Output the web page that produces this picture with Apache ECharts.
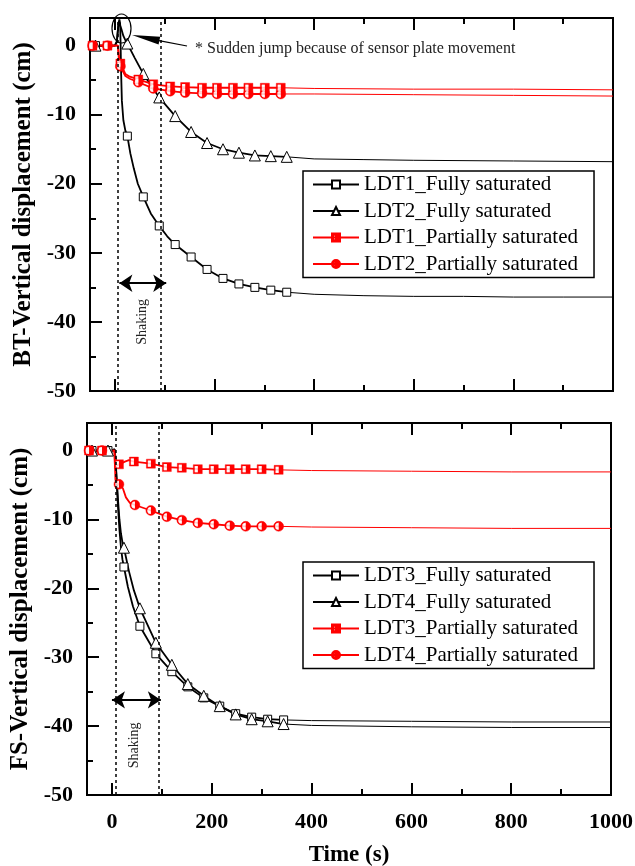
<!DOCTYPE html>
<html>
<head>
<meta charset="utf-8">
<script src="https://cdn.jsdelivr.net/npm/echarts@6/dist/echarts.min.js"></script>
<style>
  html, body { margin: 0; padding: 0; background: #fff; }
  #chart { width: 635px; height: 866px; }
</style>
</head>
<body>
<div id="chart"></div>
<script>
// ---- tick values ----
const xMajorTicks = [0, 200, 400, 600, 800, 1000];
const xMinorTicks = [100, 300, 500, 700, 900];
const yMajorTicks = [-50, -40, -30, -20, -10, 0];
const yMinorTicks = [-45, -35, -25, -15, -5];

// ---- BT (top) : [time s, displacement cm] ----
const bt1FullLine = [[-50, 0], [0, 0], [4, 0.6], [7, 3.2], [9, 3.8], [10.5, 3.2], [11.5, 0], [12.5, -4], [14, -8], [17, -10.8], [21, -12.3], [31, -15.6], [38, -17.8], [46, -20.0], [72, -24.3], [105, -27.6]];
const bt1FullMarks = [[-39, 0], [25, -13.1], [57, -21.9], [89, -26.1], [121, -28.8], [153, -30.6], [185, -32.4], [217, -33.7], [249, -34.5], [281, -35.0], [313, -35.4], [345, -35.7]];
const bt1FullTail = [[345, -35.7], [400, -36.0], [500, -36.2], [600, -36.3], [700, -36.3], [800, -36.4], [900, -36.4], [1000, -36.4]];

const bt2FullLine = [[-50, 0], [0, 0], [4, 0.6], [6, 2.2], [8, 3.5], [10, 3.4], [13, 2.4], [17, 1.4], [21, 0.8], [40, -1.8]];
const bt2FullMarks = [[-39, 0], [25, 0.3], [57, -4.1], [89, -7.5], [121, -10.2], [153, -12.5], [185, -14.1], [217, -15.0], [249, -15.5], [281, -15.9], [313, -16.0], [345, -16.1]];
const bt2FullTail = [[345, -16.1], [400, -16.4], [500, -16.5], [600, -16.6], [800, -16.7], [1000, -16.8]];

const bt1PartLine = [[-50, 0], [0, 0], [6, 0], [8, -1.5], [10, -2.4], [21, -4.1], [30, -4.5]];
const bt1PartMarks = [[-45, 0], [-15, 0], [11, -2.6], [47, -4.9], [77, -5.6], [111, -5.9], [141, -6.0], [175, -6.1], [205, -6.1], [237, -6.1], [268, -6.1], [301, -6.1], [333, -6.1]];
const bt1PartTail = [[333, -6.1], [400, -6.2], [600, -6.3], [800, -6.3], [1000, -6.4]];

const bt2PartLine = [[-50, 0], [0, 0], [6, 0], [8, -2.0], [10, -2.9], [21, -4.4], [30, -4.8]];
const bt2PartMarks = [[-45, 0], [-15, 0], [11, -3.0], [47, -5.3], [77, -6.2], [111, -6.6], [141, -6.8], [175, -6.9], [205, -7.0], [237, -7.0], [268, -7.0], [301, -7.0], [333, -7.0]];
const bt2PartTail = [[333, -7.0], [400, -7.0], [600, -7.1], [800, -7.2], [1000, -7.3]];

// ---- FS (bottom) ----
const fs3FullLine = [[-50, 0], [0, 0], [5, 0.2], [7, -1], [9, -4], [12, -8], [15, -11.5], [18, -14], [21, -15.8], [32, -19.8], [42, -22.6]];
const fs3FullMarks = [[-40, 0], [-8, 0], [24, -16.9], [56, -25.5], [88, -29.5], [120, -32.1], [152, -34.3], [184, -35.9], [216, -37.1], [248, -38.2], [280, -38.7], [312, -39.0], [344, -39.1]];
const fs3FullTail = [[344, -39.1], [400, -39.2], [600, -39.3], [800, -39.4], [1000, -39.4]];

const fs4FullLine = [[-50, 0], [0, 0], [5, 0.2], [7, -1], [9, -3.5], [12, -7], [15, -10], [18, -12], [21, -13.3], [34, -17.5], [44, -20.3]];
const fs4FullMarks = [[-40, 0], [-8, 0], [24, -14.1], [56, -22.9], [88, -27.9], [120, -31.1], [152, -33.9], [184, -35.6], [216, -37.1], [248, -38.3], [280, -39.0], [312, -39.3], [344, -39.7]];
const fs4FullTail = [[344, -39.7], [400, -39.9], [600, -40.1], [800, -40.2], [1000, -40.2]];

const fs3PartLine = [[-50, 0], [0, 0], [5, 0], [6, -2.3], [10, -2.2], [26, -1.6], [34, -1.4]];
const fs3PartMarks = [[-46, 0], [-20, 0], [14, -2.0], [44, -1.6], [78, -1.9], [110, -2.4], [140, -2.5], [172, -2.7], [204, -2.7], [236, -2.7], [268, -2.7], [300, -2.7], [334, -2.8]];
const fs3PartTail = [[334, -2.8], [400, -2.9], [600, -3.0], [800, -3.1], [1000, -3.1]];

const fs4PartLine = [[-50, 0], [0, 0], [5, 0], [7, -4.3], [10, -4.7], [22, -5.5], [28, -6.8], [36, -7.6]];
const fs4PartMarks = [[-46, 0], [-20, 0], [14, -4.9], [46, -7.9], [78, -8.7], [110, -9.6], [140, -10.1], [172, -10.5], [204, -10.7], [236, -10.9], [268, -11.0], [300, -11.0], [334, -11.0]];
const fs4PartTail = [[334, -11.0], [400, -11.1], [600, -11.2], [800, -11.3], [1000, -11.3]];

const font = 'Liberation Serif';
const halfSquare = 'path://M0,0 L10,0 L10,10 L0,10 Z M1.6,1.6 L1.6,8.4 L5,8.4 L5,1.6 Z';
const halfCircle = 'path://M5,0 A5,5 0 1,1 5,10 A5,5 0 1,1 5,0 Z M5,1.5 A3.5,3.5 0 0,0 5,8.5 Z';

// white left halves laid over the red markers
const whiteHalf = {
  hsq: { symbol: 'rect', symbolSize: [3.1, 6.2], symbolOffset: [-1.5, 0] },
  hci: { symbol: 'path://M10,0 A10,10 0 0,0 10,20 Z', symbolSize: [3.5, 7], symbolOffset: [-1.75, 0] }
};

const styles = {
  sq:  { symbol: 'rect', symbolSize: 8, itemStyle: { color: '#fff', borderColor: '#000', borderWidth: 1 }, color: '#000' },
  tri: { symbol: 'triangle', symbolSize: 11, itemStyle: { color: '#fff', borderColor: '#000', borderWidth: 1 }, color: '#000' },
  hsq: { symbol: halfSquare, symbolSize: 9, itemStyle: { color: '#ff0000', borderColor: '#ff0000', borderWidth: 0.4 }, color: '#ff0000', half: 'hsq' },
  hci: { symbol: halfCircle, symbolSize: 10, itemStyle: { color: '#ff0000', borderColor: '#ff0000', borderWidth: 0.4 }, color: '#ff0000', half: 'hci' }
};

function merge(line, marks) {
  const pts = line.map(p => ({ value: p, symbol: 'none' }))
    .concat(marks.map(p => ({ value: p })));
  pts.sort((a, b) => a.value[0] - b.value[0]);
  return pts;
}

function curve(name, line, marks, tail, axis, st, extra) {
  const main = Object.assign({
    name: name, type: 'line', xAxisIndex: axis, yAxisIndex: axis / 2,
    symbol: st.symbol, symbolSize: st.symbolSize, showAllSymbol: true,
    itemStyle: st.itemStyle, lineStyle: { color: st.color, width: 1.8 },
    data: merge(line, marks), z: 3
  }, extra || {});
  const rest = {
    name: name + ' tail', type: 'line', xAxisIndex: axis, yAxisIndex: axis / 2,
    symbol: 'none', lineStyle: { color: st.color, width: 1 }, data: tail, z: 2
  };
  const out = [main, rest];
  if (st.half) {
    const h = whiteHalf[st.half];
    out.push({
      name: name + ' fill', type: 'scatter', xAxisIndex: axis, yAxisIndex: axis / 2,
      symbol: h.symbol, symbolSize: h.symbolSize, symbolOffset: h.symbolOffset,
      itemStyle: { color: '#fff' }, silent: true, data: marks, z: 4
    });
  }
  return out;
}

function guides(dash1, dash2, arrowY, arrowX1, arrowX2, textPos) {
  return {
    markLine: {
      silent: true, animation: false, symbol: 'none',
      label: { show: false },
      lineStyle: { color: '#000', type: [3, 3], width: 1.5 },
      data: [
        { xAxis: dash1 }, { xAxis: dash2 },
        [
          { coord: [arrowX1, arrowY], symbol: 'arrow', symbolSize: 13, lineStyle: { type: 'solid', width: 2, color: '#000' } },
          { coord: [arrowX2, arrowY], symbol: 'arrow', symbolSize: 13 }
        ]
      ]
    },
    markPoint: {
      silent: true, animation: false,
      data: [{
        coord: textPos, symbol: 'rect', symbolSize: 1,
        itemStyle: { color: 'rgba(0,0,0,0)' },
        label: { show: true, position: 'inside', formatter: 'Shaking', rotate: 90, fontFamily: font, fontSize: 14, color: '#222' }
      }]
    }
  };
}

function xAxes(grid, bottomLabels) {
  const base = (pos, ticks, len, labels) => ({
    type: 'value', gridIndex: grid, position: pos, min: -50, max: 1000,
    axisLine: { show: false, onZero: false }, splitLine: { show: false },
    axisTick: { show: true, inside: true, length: len, customValues: ticks, lineStyle: { color: '#000', width: 2 } },
    axisLabel: labels
      ? { show: true, customValues: xMajorTicks, formatter: v => String(v), margin: 16, fontFamily: font, fontWeight: 'bold', fontSize: 22, color: '#000' }
      : { show: false }
  });
  const main = base('bottom', xMajorTicks, 12, bottomLabels);
  if (bottomLabels) {
    main.name = 'Time (s)';
    main.nameLocation = 'middle';
    main.nameGap = 49;
    main.nameTextStyle = { fontFamily: font, fontWeight: 'bold', fontSize: 23, color: '#000' };
  }
  return [main, base('bottom', xMinorTicks, 6, false), base('top', xMajorTicks, 12, false), base('top', xMinorTicks, 6, false)];
}

function yAxes(grid, title) {
  return [
    {
      type: 'value', gridIndex: grid, position: 'left', min: -50, max: 4,
      name: title, nameLocation: 'middle', nameGap: 53,
      nameTextStyle: { fontFamily: font, fontWeight: 'bold', fontSize: 25, color: '#000' },
      axisLine: { show: false, onZero: false }, splitLine: { show: false },
      axisTick: { show: true, inside: true, length: 12, customValues: yMajorTicks, lineStyle: { color: '#000', width: 2 } },
      axisLabel: { customValues: yMajorTicks, margin: 14, fontFamily: font, fontWeight: 'bold', fontSize: 22, color: '#000' }
    },
    {
      type: 'value', gridIndex: grid, position: 'left', min: -50, max: 4,
      axisLine: { show: false, onZero: false }, splitLine: { show: false }, axisLabel: { show: false },
      axisTick: { show: true, inside: true, length: 6, customValues: yMinorTicks, lineStyle: { color: '#000', width: 2 } }
    }
  ];
}

function legendAt(top, names) {
  return {
    orient: 'vertical', left: 303, top: top, data: names,
    itemWidth: 46, itemHeight: 10, itemGap: 5.5,
    padding: [3, 16, 3, 9],
    borderColor: '#000', borderWidth: 1.5, backgroundColor: '#fff',
    textStyle: { fontFamily: font, fontSize: 21, color: '#000' }
  };
}

const btNames = ['LDT1_Fully saturated', 'LDT2_Fully saturated', 'LDT1_Partially saturated', 'LDT2_Partially saturated'];
const fsNames = ['LDT3_Fully saturated', 'LDT4_Fully saturated', 'LDT3_Partially saturated', 'LDT4_Partially saturated'];

const chart = echarts.init(document.getElementById('chart'), null, { renderer: 'canvas' });
const gridStyle = { show: true, borderColor: '#000', borderWidth: 2, backgroundColor: 'transparent', outerBoundsMode: 'none' };

chart.setOption({
  animation: false,
  backgroundColor: '#fff',
  grid: [
    Object.assign({ left: 90, top: 18, width: 523, height: 373 }, gridStyle),
    Object.assign({ left: 87, top: 423, width: 524, height: 372 }, gridStyle)
  ],
  xAxis: xAxes(0, false).concat(xAxes(1, true)),
  yAxis: yAxes(0, 'BT-Vertical displacement (cm)').concat(yAxes(1, 'FS-Vertical displacement (cm)')),
  legend: [legendAt(171, btNames), legendAt(562, fsNames)],
  series: [].concat(
    curve(btNames[0], bt1FullLine, bt1FullMarks, bt1FullTail, 0, styles.sq, guides(6, 93, -34.4, 9, 103, [55, -40])),
    curve(btNames[1], bt2FullLine, bt2FullMarks, bt2FullTail, 0, styles.tri),
    curve(btNames[2], bt1PartLine, bt1PartMarks, bt1PartTail, 0, styles.hsq),
    curve(btNames[3], bt2PartLine, bt2PartMarks, bt2PartTail, 0, styles.hci),
    curve(fsNames[0], fs3FullLine, fs3FullMarks, fs3FullTail, 4, styles.sq, guides(7, 93, -36.2, 0, 98, [44, -42.8])),
    curve(fsNames[1], fs4FullLine, fs4FullMarks, fs4FullTail, 4, styles.tri),
    curve(fsNames[2], fs3PartLine, fs3PartMarks, fs3PartTail, 4, styles.hsq),
    curve(fsNames[3], fs4PartLine, fs4PartMarks, fs4PartTail, 4, styles.hci)
  ),
  graphic: [
    { type: 'ellipse', shape: { cx: 121.5, cy: 28.5, rx: 9.5, ry: 14.5 }, style: { fill: 'none', stroke: '#000', lineWidth: 1.2 }, z: 10 },
    { type: 'polygon', shape: { points: [[132, 35], [160.2, 36.7], [158.6, 44.5]] }, style: { fill: '#000' }, z: 10 },
    { type: 'line', shape: { x1: 159, y1: 40.6, x2: 187, y2: 46 }, style: { stroke: '#000', lineWidth: 1.2 }, z: 10 },
    { type: 'text', x: 195, y: 49, style: { text: '* Sudden jump because of sensor plate movement', font: '16px "Liberation Serif"', fill: '#222', verticalAlign: 'middle' }, z: 10 }
  ]
});
</script>
</body>
</html>
